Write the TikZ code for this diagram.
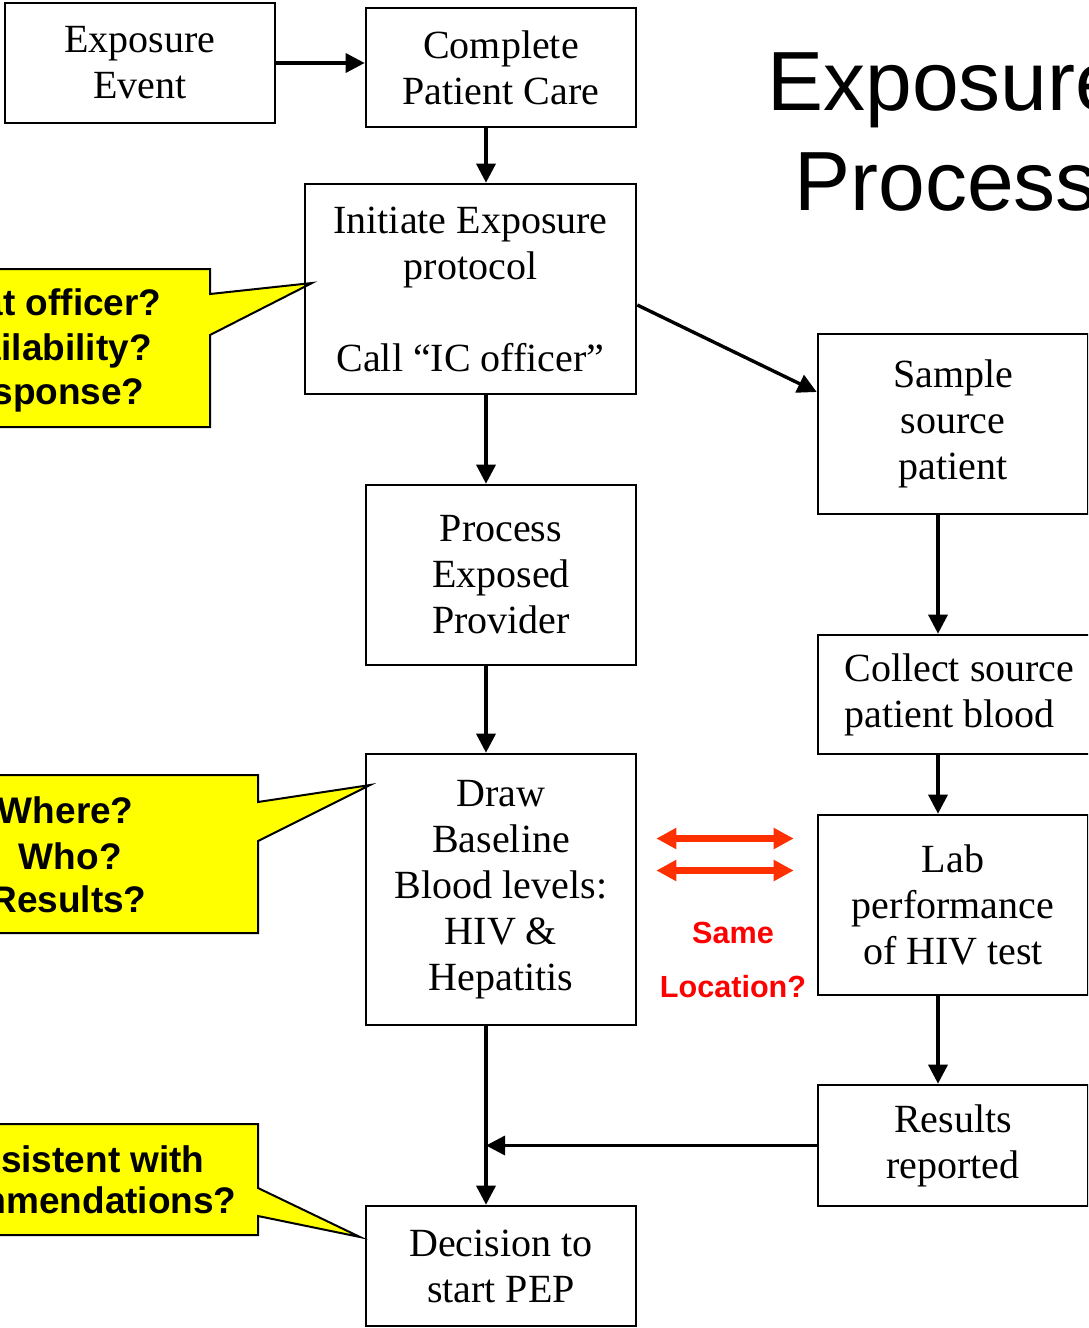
\documentclass[tikz,border=0pt]{standalone}
\usepackage{fontspec}
\setmainfont{Liberation Serif}
\newfontfamily\calloutfont{Liberation Sans}
\usetikzlibrary{arrows.meta,calc}

\definecolor{noteyellow}{RGB}{255,255,0}
\definecolor{linkred}{RGB}{255,48,0}
\definecolor{askred}{RGB}{255,0,0}

\newcommand{\boxfont}{\fontsize{20}{23}\selectfont}
\newcommand{\notefont}{\calloutfont\bfseries\fontsize{18.5}{22.75}\selectfont}
\newcommand{\askfont}{\calloutfont\bfseries\fontsize{15.3}{18}\selectfont}
\newcommand{\headfont}{\calloutfont\fontsize{42}{50}\selectfont}

\begin{document}
\begin{tikzpicture}[x=0.5pt, y=-0.5pt,
    stepbox/.style={draw, line width=1.3pt, align=center, font=\boxfont, inner sep=0pt, minimum width=135pt},
    flow/.style={line width=1.7pt, -{Triangle[length=9.5pt,width=9.5pt]}},
    samearrow/.style={linkred, line width=3.5pt, {Triangle[length=10pt,width=10pt]}-{Triangle[length=10pt,width=10pt]}},
    note/.style={draw, line width=1pt, fill=noteyellow, line join=miter},
    noteline/.style={font=\notefont, anchor=base east, inner sep=0pt},
    asktext/.style={font=\askfont, text=askred, anchor=base, inner sep=0pt},
  ]
  \useasboundingbox (0,0) rectangle (1088,1328);
  \clip (0,0) rectangle (1088,1328);

  % gelbe Sprechblasen links
  \draw[note] (-20,269) -- (210,269) -- (210,294) -- (312,283) -- (210,335) -- (210,427) -- (-20,427) -- cycle;
  \node[noteline] (q1) at (162,315) {at officer?};
  \node[noteline] (q2) at (152,360) {ailability?};
  \node[noteline] (q3) at (145,404) {sponse?};

  \draw[note] (-20,775) -- (258,775) -- (258,802) -- (370,785) -- (258,841) -- (258,933) -- (-20,933) -- cycle;
  \node[noteline] (w1) at (134,823) {Where?};
  \node[noteline] (w2) at (122,869) {Who?};
  \node[noteline] (w3) at (147,912) {Results?};

  \draw[note] (-20,1124) -- (258,1124) -- (258,1188) -- (360,1237) -- (258,1216) -- (258,1235) -- (-20,1235) -- cycle;
  \node[noteline] (c1) at (205,1172) {nsistent with};
  \node[noteline] (c2) at (237,1213) {mmendations?};

  % Titel
  \node[font=\headfont, anchor=base west, inner sep=0pt] (head1) at (767,110) {Exposure};
  \node[font=\headfont, anchor=base west, inner sep=0pt] (head2) at (794,210) {Process};

  % Kaesten, mittlere Spalte
  \node[stepbox, minimum height=60pt] (evt) at (140,63) {Exposure\\Event};
  \node[stepbox, minimum height=59.5pt] (care) at (501,67.5) {Complete\\Patient Care};
  \node[stepbox, minimum width=165.5pt, minimum height=105pt] (init) at (470.5,289) {Initiate Exposure\\protocol\\[23pt]Call “IC officer”};
  \node[stepbox, minimum height=90pt] (proc) at (501,575) {Process\\Exposed\\Provider};
  \node[stepbox, minimum height=135.5pt] (base) at (501,889.5) {Draw\\Baseline\\Blood levels:\\HIV \&\\Hepatitis};
  \node[stepbox, minimum height=60pt] (pep) at (501,1266) {Decision to\\start PEP};

  % Kaesten, rechte Spalte
  \node[stepbox, minimum height=90pt] (src) at (953,424) {Sample\\source\\patient};
  \node[stepbox, align=left, minimum width=141.5pt, minimum height=59.5pt] (coll) at (959.5,694.5) {Collect source\\patient blood};
  \node[stepbox, minimum height=90pt] (lab) at (953,905) {Lab\\performance\\of HIV test};
  \node[stepbox, minimum height=60.5pt] (res) at (953,1145.5) {Results\\reported};

  % Pfeile
  \coordinate (spine) at (486,0);
  \coordinate (rspine) at (938,0);
  \draw[flow] (evt.east) -- (evt.east -| care.west);
  \draw[flow] (care.south -| spine) -- (init.north -| spine);
  \draw[flow] (init.south -| spine) -- (proc.north -| spine);
  \draw[flow] (proc.south -| spine) -- (base.north -| spine);
  \draw[flow] (base.south -| spine) -- (pep.north -| spine);
  \draw[flow] ([yshift=-8pt]init.east) -- ([yshift=16pt]src.west);
  \draw[flow] (src.south -| rspine) -- (coll.north -| rspine);
  \draw[flow] (coll.south -| rspine) -- (lab.north -| rspine);
  \draw[flow] (lab.south -| rspine) -- (res.north -| rspine);
  \draw[flow] (res.west) -- (res.west -| spine);

  % rote Doppelpfeile
  \coordinate (l1) at ($(base.east)+(19,-51)$);
  \coordinate (r1) at ($(lab.west |- l1)+(-23,0)$);
  \coordinate (l2) at ($(base.east)+(19,-19)$);
  \coordinate (r2) at ($(lab.west |- l2)+(-23,0)$);
  \draw[samearrow] (l1) -- (r1);
  \draw[samearrow] (l2) -- (r2);
  \node[asktext] (same) at (733,943) {Same};
  \node[asktext] (loc) at (733,997) {Location?};
\end{tikzpicture}
\end{document}
